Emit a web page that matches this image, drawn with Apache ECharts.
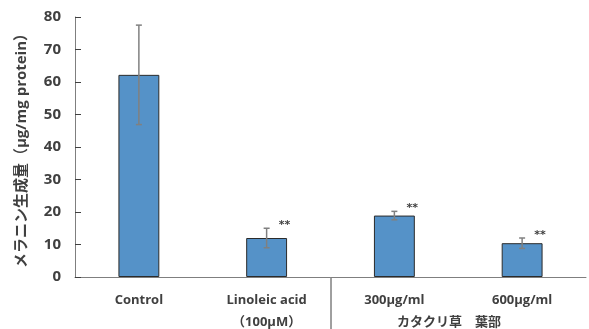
<!DOCTYPE html>
<html><head><meta charset="utf-8">
<script src="https://cdn.jsdelivr.net/npm/echarts@6/dist/echarts.min.js"></script>
<style>html,body{margin:0;padding:0;background:#fff}#c{width:589px;height:329px}</style>
</head><body><div id="c"></div>
<script>
const categories = ['Control', 'Linoleic acid\n（100μM）', '300μg/ml', '600μg/ml'];
const means = [62.2, 12.0, 18.9, 10.4];
const errors = [15.3, 3.0, 1.3, 1.6];
const marks = ['', '**', '**', '**'];
const yTicks = [0, 10, 20, 30, 40, 50, 60, 70, 80];
const yName = 'メラニン生成量（μg/mg protein）';
const groupLabel = 'カタクリ草　葉部';

const chart = echarts.init(document.getElementById('c'));
const txt = '#404040';
const fontFam = '"Open Sans","Noto Sans CJK JP",sans-serif';
chart.setOption({
  animation: false,
  grid: {left: 75, right: 3, top: 17, bottom: 52, outerBoundsMode: 'none', containLabel: false},
  xAxis: {
    type: 'category', data: categories,
    axisLine: {lineStyle: {color: '#7f7f7f', width: 1}},
    axisTick: {show: false},
    axisLabel: {color: txt, fontWeight: 'bold', fontSize: 13, fontFamily: fontFam, margin: 12, lineHeight: 22}
  },
  yAxis: {
    type: 'value', min: yTicks[0], max: yTicks[yTicks.length - 1], interval: 10,
    name: yName, nameLocation: 'middle', nameRotate: 90, nameGap: 46,
    nameTextStyle: {color: txt, fontWeight: 'bold', fontSize: 15, fontFamily: fontFam},
    axisLine: {show: true, lineStyle: {color: '#7f7f7f', width: 1}},
    axisTick: {show: true, inside: true, length: 6, lineStyle: {color: '#404040'}},
    splitLine: {show: false},
    axisLabel: {color: txt, fontWeight: 'bold', fontSize: 15, fontFamily: fontFam, margin: 14}
  },
  series: [
    {
      type: 'bar', data: means, barWidth: '32%',
      itemStyle: {color: '#5592C8', borderColor: '#2b2b2b', borderWidth: 1}
    },
    {
      type: 'custom',
      data: means.map((m, i) => [i, m, errors[i], marks[i]]),
      renderItem: function (params, api) {
        const i = api.value(0), m = api.value(1), e = api.value(2);
        const top = api.coord([i, m + e]);
        const bot = api.coord([i, m - e]);
        const cap = 3;
        const st = {stroke: '#808080', lineWidth: 1.5};
        const children = [
          {type: 'line', shape: {x1: top[0], y1: top[1], x2: bot[0], y2: bot[1]}, style: st},
          {type: 'line', shape: {x1: top[0] - cap, y1: top[1], x2: top[0] + cap, y2: top[1]}, style: st},
          {type: 'line', shape: {x1: bot[0] - cap, y1: bot[1], x2: bot[0] + cap, y2: bot[1]}, style: st}
        ];
        const mk = marks[params.dataIndex];
        if (mk) {
          children.push({type: 'text', x: top[0] + 12, y: top[1] - 3,
            style: {text: mk, fill: '#404040', font: 'bold 11px "DejaVu Sans"', textAlign: 'left', textVerticalAlign: 'middle'}});
        }
        return {type: 'group', children: children};
      },
      z: 5
    }
  ],
  graphic: [
    {type: 'line', shape: {x1: 331, y1: 277, x2: 331, y2: 329}, style: {stroke: '#404040', lineWidth: 1}},
    {type: 'text', x: 449, y: 321, style: {text: groupLabel, fill: txt, font: 'bold 13px "Noto Sans CJK JP"', textAlign: 'center', textVerticalAlign: 'middle'}}
  ]
});
</script></body></html>
